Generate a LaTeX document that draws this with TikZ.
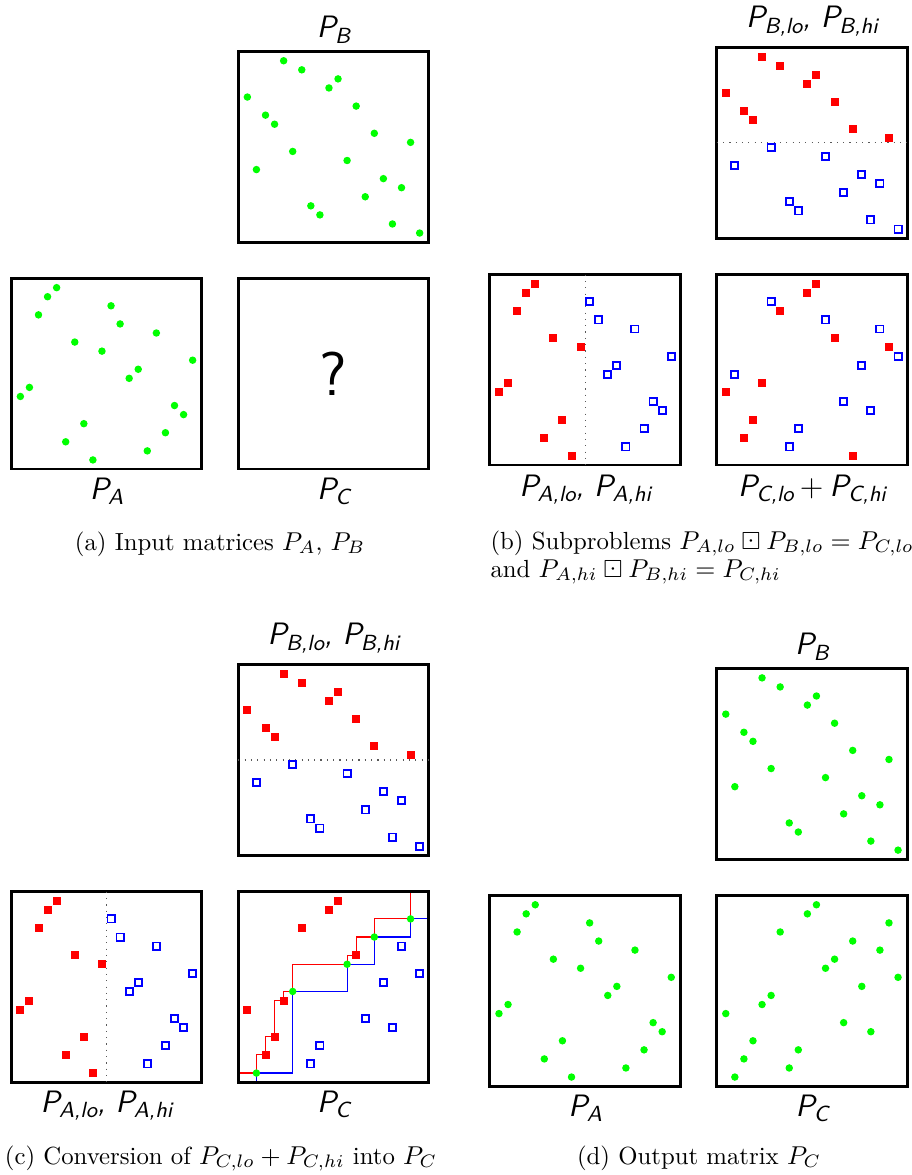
\documentclass[tikz,border=0pt]{standalone}
\usepackage{amssymb}
\tikzset{
  cellunit/.style={x=3.5144pt,y=-3.5144pt},
  boxline/.style={draw=black,line width=1.15pt},
  sepline/.style={draw=black!65,dotted,line width=0.45pt},
  boxlab/.style={font=\fontsize{12}{14}\sffamily\slshape\selectfont,inner sep=0pt,anchor=base},
  captxt/.style={font=\fontsize{9.6}{11.6}\selectfont,inner sep=0pt,anchor=base},
  redpath/.style={draw=red,line width=0.45pt},
  bluepath/.style={draw=blue,line width=0.45pt}
}
\newcommand\gp[2]{\fill[green] (#1,#2) circle[radius=1.45pt];}
\newcommand\rp[2]{\fill[red] (#1,#2) ++(-1.55pt,-1.55pt) rectangle ++(3.1pt,3.1pt);}
\newcommand\bp[2]{\draw[blue,line width=0.72pt] (#1,#2) ++(-1.38pt,-1.38pt) rectangle ++(2.76pt,2.76pt);}
\newcommand\PP[1]{P\kern-0.03em\raisebox{-2.2pt}{\fontsize{8.5}{10}\selectfont#1}}
\newcommand\permB{5,7,11,10,1,13,3,4,15,19,6,12,2,16,18,14,8,9,17,20}
\newcommand\permA{5,4,11,3,12,16,7,10,20,14,13,2,1,18,19,8,17,6,15,9}
\newcommand\permC{11,10,19,7,15,18,13,12,20,16,6,5,1,14,17,4,9,3,8,2}
\begin{document}
\begin{tikzpicture}[x=0.3876pt,y=-0.3876pt]
\useasboundingbox (0,0) rectangle (912,1175);
% ---------------- (a)
\begin{scope}[shift={(238.3,51.7)},cellunit]
  \draw[boxline] (0,0) rectangle (21,21);
  \foreach \c [count=\r] in \permB {\gp{\c}{\r}}
\end{scope}
\begin{scope}[shift={(11.3,278.6)},cellunit]
  \draw[boxline] (0,0) rectangle (21,21);
  \foreach \c [count=\r] in \permA {\gp{\c}{\r}}
\end{scope}
\begin{scope}[shift={(238.3,278.6)},cellunit]
  \draw[boxline] (0,0) rectangle (21,21);
  \node[font=\sffamily\fontsize{24}{28}\selectfont,inner sep=0pt] (q) at (10.5,10.5) {?};
\end{scope}
\node[boxlab] (aB) at (333.5,37.7) {\PP{B}};
\node[boxlab] (aA) at (106.5,499) {\PP{A}};
\node[boxlab] (aC) at (333.5,499) {\PP{C}};
\node[captxt] (capa) at (220,550) {(a) Input matrices $P_A$, $P_B$};
% ---------------- (b)
\begin{scope}[shift={(716.7,47.7)},cellunit]
  \draw[boxline] (0,0) rectangle (21,21);
  \draw[sepline] (0,10.5) -- (21,10.5);
  \foreach \c [count=\r] in \permB {\ifnum\r<11 \rp{\c}{\r}\else\bp{\c}{\r}\fi}
\end{scope}
\begin{scope}[shift={(489.9,274.6)},cellunit]
  \draw[boxline] (0,0) rectangle (21,21);
  \draw[sepline] (10.5,0) -- (10.5,21);
  \foreach \c [count=\r] in \permA {\ifnum\c<11 \rp{\c}{\r}\else\bp{\c}{\r}\fi}
\end{scope}
\begin{scope}[shift={(716.7,274.6)},cellunit]
  \draw[boxline] (0,0) rectangle (21,21);
  \foreach \c/\k [count=\r] in {11/r,10/r,6/b,7/r,12/b,18/b,13/r,19/r,20/b,16/b,2/b,5/r,1/r,14/b,17/b,4/r,9/b,3/r,8/b,15/r}
    {\csname\k p\endcsname{\c}{\r}}
\end{scope}
\node[boxlab] (bB) at (811.9,27.7) {\PP{B,lo}, \PP{B,hi}};
\node[boxlab] (bA) at (585.1,496) {\PP{A,lo}, \PP{A,hi}};
\node[boxlab] (bC) at (811.9,496) {\PP{C,lo}\hspace{2.4pt}{\upshape+}\hspace{2.4pt}\PP{C,hi}};
\node[captxt,anchor=base west] (capb1) at (490,549) {(b) Subproblems $P_{A,lo}\boxdot P_{B,lo}=P_{C,lo}$};
\node[captxt,anchor=base west] (capb2) at (490,577) {and $P_{A,hi}\boxdot P_{B,hi}=P_{C,hi}$};
% ---------------- (c)
\begin{scope}[shift={(238.3,664.8)},cellunit]
  \draw[boxline] (0,0) rectangle (21,21);
  \draw[sepline] (0,10.5) -- (21,10.5);
  \foreach \c [count=\r] in \permB {\ifnum\r<11 \rp{\c}{\r}\else\bp{\c}{\r}\fi}
\end{scope}
\begin{scope}[shift={(11.3,891.7)},cellunit]
  \draw[boxline] (0,0) rectangle (21,21);
  \draw[sepline] (10.5,0) -- (10.5,21);
  \foreach \c [count=\r] in \permA {\ifnum\c<11 \rp{\c}{\r}\else\bp{\c}{\r}\fi}
\end{scope}
\begin{scope}[shift={(238.3,891.7)},cellunit]
  \draw[redpath] (0,20) -- (2,20) -- (2,18) -- (3,18) -- (3,16) -- (4,16) -- (4,12) -- (5,12) -- (5,11) -- (6,11) -- (6,8) -- (12,8) -- (12,7) -- (13,7) -- (13,5) -- (15,5) -- (15,3) -- (19,3) -- (19,0);
  \draw[bluepath] (2,21) -- (2,20) -- (6,20) -- (6,11) -- (12,11) -- (12,8) -- (15,8) -- (15,5) -- (19,5) -- (19,3) -- (21,3);
  \draw[boxline] (0,0) rectangle (21,21);
  \foreach \c/\k [count=\r] in {11/r,10/r,19/g,7/r,15/g,18/b,13/r,12/g,20/b,16/b,6/g,5/r,1/r,14/b,17/b,4/r,9/b,3/r,8/b,2/g}
    {\csname\k p\endcsname{\c}{\r}}
\end{scope}
\node[boxlab] (cB) at (333.5,644.8) {\PP{B,lo}, \PP{B,hi}};
\node[boxlab] (cA) at (106.5,1112) {\PP{A,lo}, \PP{A,hi}};
\node[boxlab] (cC) at (333.5,1112) {\PP{C}};
\node[captxt] (capc) at (221,1164) {(c) Conversion of $P_{C,lo}+P_{C,hi}$ into $P_C$};
% ---------------- (d)
\begin{scope}[shift={(716.7,668.8)},cellunit]
  \draw[boxline] (0,0) rectangle (21,21);
  \foreach \c [count=\r] in \permB {\gp{\c}{\r}}
\end{scope}
\begin{scope}[shift={(489.9,895.7)},cellunit]
  \draw[boxline] (0,0) rectangle (21,21);
  \foreach \c [count=\r] in \permA {\gp{\c}{\r}}
\end{scope}
\begin{scope}[shift={(716.7,895.7)},cellunit]
  \draw[boxline] (0,0) rectangle (21,21);
  \foreach \c [count=\r] in \permC {\gp{\c}{\r}}
\end{scope}
\node[boxlab] (dB) at (811.9,654.8) {\PP{B}};
\node[boxlab] (dA) at (585.1,1116) {\PP{A}};
\node[boxlab] (dC) at (811.9,1116) {\PP{C}};
\node[captxt] (capd) at (699,1164) {(d) Output matrix $P_C$};
\end{tikzpicture}
\end{document}
